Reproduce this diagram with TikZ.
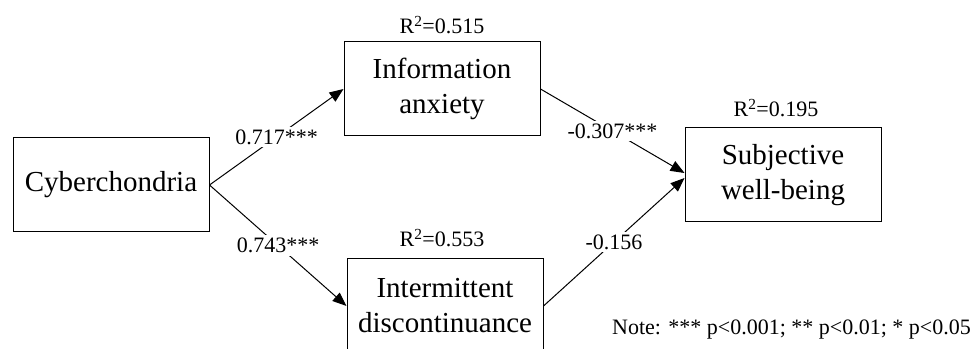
\documentclass[tikz,border=0pt]{standalone}
\usepackage{fontspec}
\setmainfont{Liberation Serif}
\usetikzlibrary{arrows.meta}

\tikzset{
	var/.style={draw, line width=1pt, minimum width=196pt, minimum height=94pt,
		inner sep=0pt, align=center, font=\fontsize{29}{35}\selectfont},
	coef/.style={fill=white, inner sep=3pt, font=\fontsize{22}{26}\selectfont},
	rsq/.style={inner sep=0pt, font=\fontsize{22}{26}\selectfont},
	effect/.style={line width=1pt, -{Triangle[length=14pt, width=11pt]}}
}

\begin{document}
\begin{tikzpicture}[x=1pt, y=1pt]
		\useasboundingbox (0, 0) rectangle (974, 348);
		% the variables
		\node[var] (cyb) at (111, 163) {Cyberchondria};
		\node[var] (info) at (442, 259) {Information\\anxiety};
		\node[var] (inter) at (445, 42) {Intermittent\\discontinuance};
		\node[var] (swb) at (783, 173) {Subjective\\well-being};
		% R squared above the boxes
		\node[rsq] (rinfo) at (442, 323) {R\textsuperscript{2}=0.515};
		\node[rsq] (rinter) at (442, 110) {R\textsuperscript{2}=0.553};
		\node[rsq] (rswb) at (776, 240) {R\textsuperscript{2}=0.195};
		% the paths
		\draw[effect] (cyb.east) -- node[coef]{0.717***} (info.west);
		\draw[effect] (cyb.east) -- node[coef]{0.743***} (inter.west);
		\draw[effect] (info.east) -- node[coef]{-0.307***} ([yshift=2pt]swb.west);
		\draw[effect] (inter.east) -- node[coef]{-0.156} ([yshift=-3pt]swb.west);
		% note
		\node[rsq, anchor=east] (note) at (971, 18) {Note: *** p<0.001; ** p<0.01; * p<0.05};
	\end{tikzpicture}
\end{document}
